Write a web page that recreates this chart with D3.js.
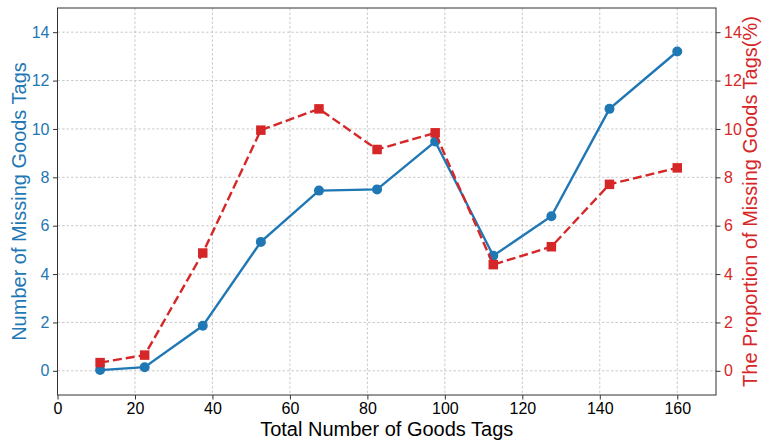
<!DOCTYPE html>
<html>
<head>
<meta charset="utf-8">
<script src="https://cdn.jsdelivr.net/npm/d3@7"></script>
<style>
  body { margin: 0; background: #fff; }
  svg { font-family: "Liberation Sans", Arial, sans-serif; }
</style>
</head>
<body>
<svg id="chart"></svg>
<script>
// values
const totalTags = [11, 22.5, 37.5, 52.5, 67.5, 82.5, 97.5, 112.5, 127.5, 142.5, 160];
const missingTags = [0.03, 0.15, 1.86, 5.33, 7.45, 7.5, 9.48, 4.76, 6.39, 10.83, 13.2];
const missingPct = [0.34, 0.65, 4.87, 9.95, 10.83, 9.15, 9.84, 4.39, 5.13, 7.71, 8.39];
const xTicks = [0, 20, 40, 60, 80, 100, 120, 140, 160];
const yTicks = [0, 2, 4, 6, 8, 10, 12, 14];

const blue = '#1f77b4';
const red = '#d62728';

const width = 772, height = 447;
const margin = { top: 8, right: 56, bottom: 52, left: 57.5 };
const innerW = width - margin.left - margin.right;
const innerH = height - margin.top - margin.bottom;

const svg = d3.select('#chart')
    .attr('width', width)
    .attr('height', height);

const chart = svg.append('g')
    .attr('transform', `translate(${margin.left},${margin.top})`);

const xScale = d3.scaleLinear().domain([0, 170]).range([0, innerW]);
const yLeft = d3.scaleLinear().domain([-1, 15]).range([innerH, 0]);
const yRight = d3.scaleLinear().domain([-1, 15]).range([innerH, 0]);

// grid
chart.append('g').selectAll('line')
    .data(xTicks)
  .join('line')
    .attr('x1', d => xScale(d)).attr('x2', d => xScale(d))
    .attr('y1', 0).attr('y2', innerH)
    .attr('stroke', '#bdbdbd').attr('stroke-width', 0.8)
    .attr('stroke-dasharray', '2.5,2');

chart.append('g').selectAll('line')
    .data(yTicks)
  .join('line')
    .attr('x1', 0).attr('x2', innerW)
    .attr('y1', d => yLeft(d)).attr('y2', d => yLeft(d))
    .attr('stroke', '#bdbdbd').attr('stroke-width', 0.8)
    .attr('stroke-dasharray', '2.5,2');

// axes
const xAxisG = chart.append('g')
    .attr('transform', `translate(0,${innerH})`)
    .call(d3.axisBottom(xScale).tickValues(xTicks).tickSize(4.5).tickPadding(3.5));

const yAxisG = chart.append('g')
    .call(d3.axisLeft(yLeft).tickValues(yTicks).tickSize(4.5).tickPadding(3.5));

const yAxisRG = chart.append('g')
    .attr('transform', `translate(${innerW},0)`)
    .call(d3.axisRight(yRight).tickValues(yTicks).tickSize(4.5).tickPadding(3.5));

[xAxisG, yAxisG, yAxisRG].forEach(g => {
    g.select('.domain').remove();
    g.attr('font-size', null).attr('font-family', null);
    g.selectAll('text').style('font-size', '16px');
    g.selectAll('line').attr('stroke', '#333');
});
xAxisG.selectAll('text').attr('fill', '#000');
yAxisG.selectAll('text').attr('fill', blue);
yAxisRG.selectAll('text').attr('fill', red);

// frame
chart.append('rect')
    .attr('width', innerW).attr('height', innerH)
    .attr('fill', 'none').attr('stroke', '#333').attr('stroke-width', 1);

// blue series
const lineLeft = d3.line()
    .x((d, i) => xScale(totalTags[i]))
    .y(d => yLeft(d));

chart.append('path')
    .datum(missingTags)
    .attr('d', lineLeft)
    .attr('fill', 'none')
    .attr('stroke', blue)
    .attr('stroke-width', 2.4);

chart.append('g').selectAll('circle')
    .data(missingTags)
  .join('circle')
    .attr('cx', (d, i) => xScale(totalTags[i]))
    .attr('cy', d => yLeft(d))
    .attr('r', 5)
    .attr('fill', blue);

// red series
const lineRight = d3.line()
    .x((d, i) => xScale(totalTags[i]))
    .y(d => yRight(d));

chart.append('path')
    .datum(missingPct)
    .attr('d', lineRight)
    .attr('fill', 'none')
    .attr('stroke', red)
    .attr('stroke-width', 2.4)
    .attr('stroke-dasharray', '9,4');

const sq = 9.5;
chart.append('g').selectAll('rect')
    .data(missingPct)
  .join('rect')
    .attr('x', (d, i) => xScale(totalTags[i]) - sq / 2)
    .attr('y', d => yRight(d) - sq / 2)
    .attr('width', sq).attr('height', sq)
    .attr('fill', red);

// axis titles
svg.append('text')
    .attr('x', margin.left + innerW / 2)
    .attr('y', 436)
    .attr('text-anchor', 'middle')
    .style('font-size', '20px')
    .attr('fill', '#000')
    .text('Total Number of Goods Tags');

svg.append('text')
    .attr('transform', `translate(26,${margin.top + innerH / 2}) rotate(-90)`)
    .attr('text-anchor', 'middle')
    .style('font-size', '20px')
    .attr('fill', blue)
    .text('Number of Missing Goods Tags');

svg.append('text')
    .attr('transform', `translate(757,${margin.top + innerH / 2}) rotate(-90)`)
    .attr('text-anchor', 'middle')
    .style('font-size', '20px')
    .attr('fill', red)
    .text('The Proportion of Missing Goods Tags(%)');
</script>
</body>
</html>
